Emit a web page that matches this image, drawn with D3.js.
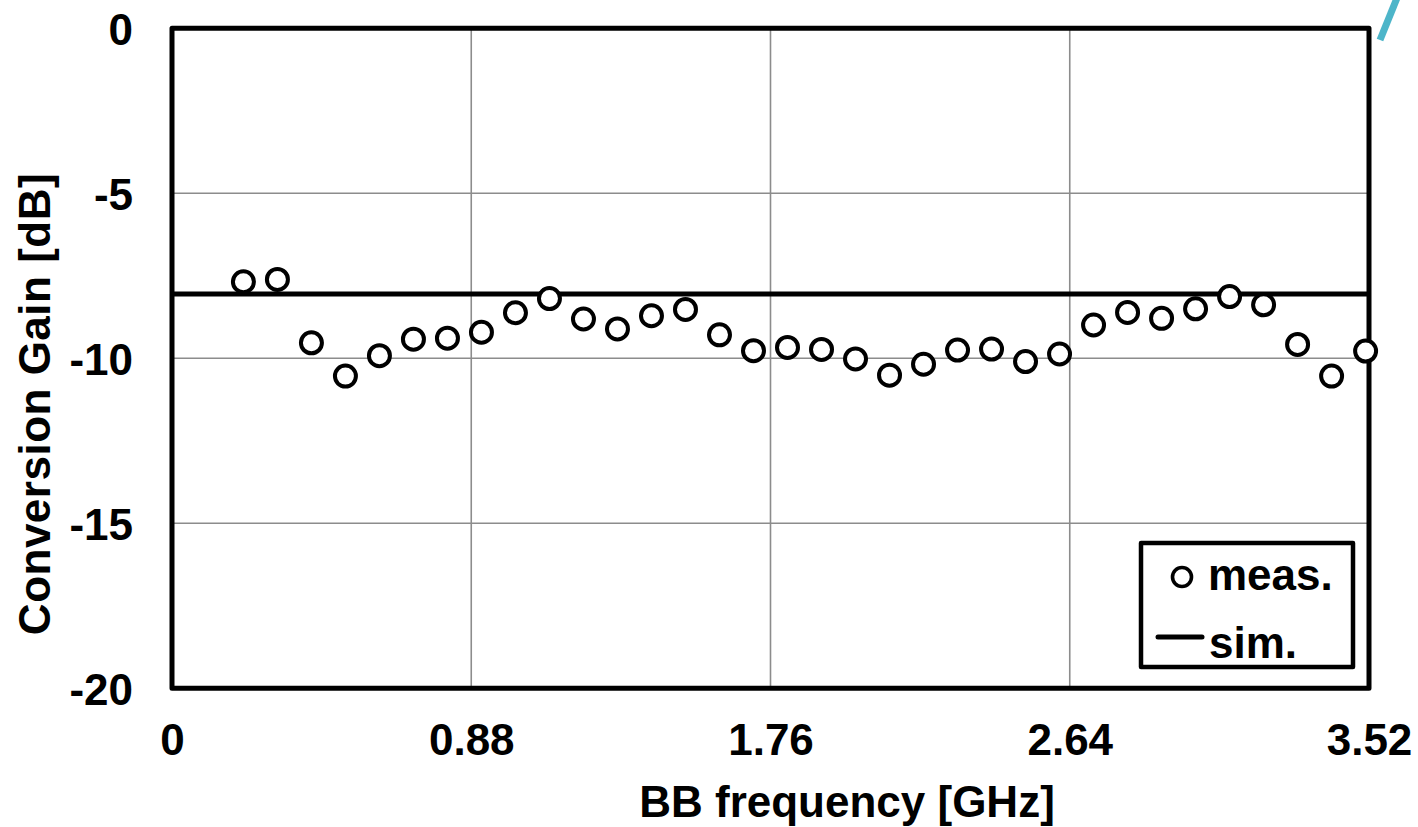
<!DOCTYPE html>
<html>
<head>
<meta charset="utf-8">
<script src="https://cdn.jsdelivr.net/npm/d3@7"></script>
<style>
  html, body { margin: 0; padding: 0; background: #fff; }
  svg { display: block; }
  text { font-family: "Liberation Sans", Arial, sans-serif; font-weight: bold; fill: #000; }
</style>
</head>
<body>
<svg id="chart" width="1418" height="827"></svg>
<script>
// Baseband frequency of each measured point [GHz]
const measFreq = [0.21, 0.31, 0.41, 0.51, 0.61, 0.71, 0.81, 0.91, 1.01, 1.11,
                  1.21, 1.31, 1.41, 1.51, 1.61, 1.71, 1.81, 1.91, 2.01, 2.11,
                  2.21, 2.31, 2.41, 2.51, 2.61, 2.71, 2.81, 2.91, 3.01, 3.11,
                  3.21, 3.31, 3.41, 3.51];
// Measured conversion gain [dB]
const measGain = [-7.68, -7.61, -9.53, -10.54, -9.92, -9.42, -9.39, -9.21, -8.62, -8.19,
                  -8.81, -9.11, -8.71, -8.52, -9.29, -9.77, -9.67, -9.73, -10.02, -10.51,
                  -10.18, -9.75, -9.72, -10.10, -9.87, -8.99, -8.61, -8.79, -8.50, -8.13,
                  -8.38, -9.58, -10.54, -9.78];
// Simulated conversion gain (flat over the band)
const simFreq = [0, 3.52];
const simGain = [-8.05, -8.05];
// Axis ticks
const xTicks = [0, 0.88, 1.76, 2.64, 3.52];
const xTickLabels = ["0", "0.88", "1.76", "2.64", "3.52"];
const yTicks = [0, -5, -10, -15, -20];
const yTickLabels = ["0", "-5", "-10", "-15", "-20"];
const legendLabels = ["meas.", "sim."];

const svg = d3.select("#chart");
const plot = { left: 172, right: 1369, top: 28.3, bottom: 688.3 };

const x = d3.scaleLinear().domain([0, 3.52]).range([plot.left, plot.right]);
const y = d3.scaleLinear().domain([-20, 0]).range([plot.bottom, plot.top]);

// Grid lines
const grid = svg.append("g");
grid.selectAll("line.gx")
  .data(xTicks.slice(1, -1))
  .join("line")
  .attr("x1", d => x(d)).attr("x2", d => x(d))
  .attr("y1", plot.top).attr("y2", plot.bottom)
  .attr("stroke", "#8c8c8c").attr("stroke-width", 1.6);
grid.selectAll("line.gy")
  .data(yTicks.slice(1, -1))
  .join("line")
  .attr("x1", plot.left).attr("x2", plot.right)
  .attr("y1", d => y(d)).attr("y2", d => y(d))
  .attr("stroke", "#8c8c8c").attr("stroke-width", 1.6);

// Axes (labels only, no tick marks)
const xAxis = d3.axisBottom(x).tickValues(xTicks).tickSize(0)
  .tickFormat((d, i) => xTickLabels[i]);
const gx = svg.append("g").attr("transform", `translate(0,${plot.bottom})`).call(xAxis);
gx.select(".domain").remove();
gx.selectAll("text").attr("font-size", 44).attr("dy", null).attr("y", 67)
  .style("font-family", "'Liberation Sans', Arial, sans-serif").style("font-weight", "bold");

const yAxis = d3.axisLeft(y).tickValues(yTicks).tickSize(0)
  .tickFormat((d, i) => yTickLabels[i]);
const gy = svg.append("g").attr("transform", `translate(${plot.left},0)`).call(yAxis);
gy.select(".domain").remove();
gy.selectAll("text").attr("font-size", 44).attr("x", -39).attr("dy", "0.36em")
  .style("font-family", "'Liberation Sans', Arial, sans-serif").style("font-weight", "bold");

// Simulated curve
const simLine = d3.line().x(d => x(d[0])).y(d => y(d[1]));
svg.append("path")
  .datum(d3.zip(simFreq, simGain))
  .attr("d", simLine)
  .attr("fill", "none").attr("stroke", "#000").attr("stroke-width", 5);

// Plot frame
svg.append("rect")
  .attr("x", plot.left).attr("y", plot.top)
  .attr("width", plot.right - plot.left).attr("height", plot.bottom - plot.top)
  .attr("fill", "none").attr("stroke", "#000").attr("stroke-width", 5)
  .attr("stroke-linejoin", "round");

// Measured points
svg.append("g").selectAll("circle")
  .data(d3.zip(measFreq, measGain))
  .join("circle")
  .attr("cx", d => x(d[0])).attr("cy", d => y(d[1]))
  .attr("r", 10.5)
  .attr("fill", "#fff").attr("stroke", "#000").attr("stroke-width", 4);

// Axis titles
svg.append("text")
  .attr("x", 847).attr("y", 817)
  .attr("text-anchor", "middle").attr("font-size", 44)
  .text("BB frequency [GHz]");
svg.append("text")
  .attr("transform", "translate(50,404) rotate(-90)")
  .attr("text-anchor", "middle").attr("font-size", 44)
  .attr("letter-spacing", 0.5)
  .text("Conversion Gain [dB]");

// Legend
const lg = svg.append("g");
lg.append("rect")
  .attr("x", 1141).attr("y", 543).attr("width", 212).attr("height", 124)
  .attr("fill", "#fff").attr("stroke", "#000").attr("stroke-width", 4.5)
  .attr("stroke-linejoin", "round");
lg.append("circle")
  .attr("cx", 1182).attr("cy", 577).attr("r", 9.5)
  .attr("fill", "#fff").attr("stroke", "#000").attr("stroke-width", 3.6);
lg.append("line")
  .attr("x1", 1158).attr("x2", 1202).attr("y1", 637).attr("y2", 637)
  .attr("stroke", "#000").attr("stroke-width", 5).attr("stroke-linecap", "round");
lg.append("text").attr("x", 1208).attr("y", 590).attr("font-size", 44).text(legendLabels[0]);
lg.append("text").attr("x", 1209).attr("y", 658).attr("font-size", 44).text(legendLabels[1]);

// Accent stroke at the upper right corner
svg.append("line")
  .attr("x1", 1380).attr("y1", 40).attr("x2", 1397).attr("y2", -2)
  .attr("stroke", "#4db5c9").attr("stroke-width", 7);
</script>
</body>
</html>
